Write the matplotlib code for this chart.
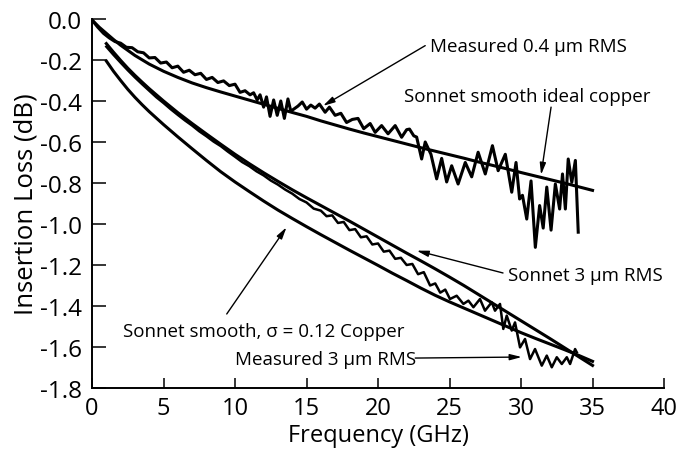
import matplotlib

matplotlib.use("Agg")

import matplotlib.pyplot as plt

plt.rcParams["font.family"] = ["Open Sans", "DejaVu Sans"]

# Sonnet smooth ideal copper
ideal_freq = [
    0, 0.5, 1, 1.5, 2, 3, 4, 5, 6, 7, 8, 9, 10, 11, 12, 13, 14, 15,
    16, 17, 18, 19, 20, 21, 22, 23, 24, 25, 26, 27, 28, 29, 30, 31,
    32, 33, 34, 35
]
ideal_loss = [
    -0.005, -0.04, -0.07, -0.10, -0.128, -0.178, -0.22, -0.255, -0.285,
    -0.312, -0.335, -0.356, -0.376, -0.396, -0.416, -0.436, -0.456,
    -0.475, -0.497, -0.517, -0.537, -0.556, -0.574, -0.592, -0.61,
    -0.628, -0.645, -0.662, -0.679, -0.697, -0.714, -0.731, -0.749,
    -0.766, -0.783, -0.80, -0.818, -0.836
]

# Measured 0.4 um RMS
meas04_freq = [
    0.0, 0.4, 0.8, 1.2, 1.6, 2.0, 2.4, 2.8, 3.2, 3.6, 4.0, 4.4, 4.8,
    5.2, 5.6, 6.0, 6.4, 6.8, 7.2, 7.6, 8.0, 8.4, 8.8, 9.2, 9.6, 10.0,
    10.35, 10.7, 11.05, 11.3, 11.55, 11.75, 12.0, 12.2, 12.45, 12.7,
    12.95, 13.2, 13.45, 13.7, 13.9, 14.1, 14.4, 14.7, 15.0, 15.3, 15.6,
    15.9, 16.3, 16.6, 17.0, 17.4, 17.8, 18.2, 18.6, 19.0, 19.45, 19.8,
    20.25, 20.7, 21.2, 21.65, 22.0, 22.2, 22.5, 22.7, 23.05, 23.3, 23.7,
    24.1, 24.45, 24.8, 25.15, 25.6, 26.1, 26.55, 27.0, 27.5, 28.0, 28.4,
    28.9, 29.35, 29.65, 29.9, 30.1, 30.4, 30.7, 31.0, 31.3, 31.55, 31.8,
    32.1, 32.4, 32.7, 32.9, 33.1, 33.3, 33.55, 33.8, 34.0
]
meas04_loss = [
    -0.005, -0.04, -0.07, -0.092, -0.11, -0.118, -0.138, -0.14, -0.16,
    -0.165, -0.19, -0.188, -0.215, -0.21, -0.238, -0.23, -0.26, -0.25,
    -0.272, -0.265, -0.295, -0.285, -0.31, -0.302, -0.325, -0.318,
    -0.358, -0.35, -0.37, -0.36, -0.395, -0.37, -0.43, -0.38, -0.475,
    -0.395, -0.47, -0.40, -0.485, -0.39, -0.45, -0.44, -0.425, -0.405,
    -0.44, -0.42, -0.435, -0.415, -0.455, -0.43, -0.47, -0.46, -0.505,
    -0.49, -0.485, -0.535, -0.51, -0.553, -0.52, -0.56, -0.52, -0.577,
    -0.54, -0.537, -0.57, -0.576, -0.683, -0.60, -0.66, -0.78, -0.68,
    -0.795, -0.716, -0.805, -0.70, -0.77, -0.65, -0.756, -0.618, -0.74,
    -0.66, -0.845, -0.70, -0.878, -0.86, -0.976, -0.79, -1.114, -0.91,
    -1.02, -0.82, -1.03, -0.805, -0.927, -0.756, -0.927, -0.683, -0.797,
    -0.69, -1.04
]

# Sonnet 3 um RMS
sonnet3_freq = [
    1, 1.5, 2, 2.5, 3, 3.5, 4, 5, 6, 7, 8, 9, 10, 11, 12, 13, 14, 15,
    16, 17, 18, 19, 20, 21, 22, 23, 24, 25, 26, 27, 28, 29, 30, 31,
    32, 33, 34, 35
]
sonnet3_loss = [
    -0.12, -0.162, -0.202, -0.24, -0.275, -0.308, -0.34, -0.40, -0.457,
    -0.51, -0.561, -0.611, -0.66, -0.706, -0.75, -0.792, -0.833, -0.872,
    -0.91, -0.948, -0.986, -1.025, -1.064, -1.103, -1.142, -1.18, -1.219,
    -1.259, -1.3, -1.343, -1.386, -1.429, -1.472, -1.515, -1.558, -1.602,
    -1.646, -1.69
]

# Measured 3 um RMS
meas3_freq = [
    1.0, 1.5, 2.0, 2.5, 3.0, 3.5, 4.0, 4.5, 5.0, 5.5, 6.0, 6.5, 7.0,
    7.5, 8.0, 8.5, 9.0, 9.5, 10.0, 10.5, 11.0, 11.5, 12.0, 12.5, 13.0,
    13.5, 14.0, 14.5, 15.0, 15.5, 16.0, 16.4, 16.8, 17.2, 17.6, 18.0,
    18.4, 18.8, 19.2, 19.6, 20.0, 20.4, 20.8, 21.2, 21.6, 22.0, 22.4,
    22.8, 23.2, 23.64, 24.0, 24.35, 24.7, 25.03, 25.5, 25.97, 26.32,
    26.67, 27.13, 27.48, 27.95, 28.18, 28.53, 28.76, 29.0, 29.35, 29.58,
    29.93, 30.28, 30.63, 30.98, 31.45, 31.8, 32.15, 32.5, 32.85, 33.2,
    33.43, 33.78, 33.9
]
meas3_loss = [
    -0.135, -0.175, -0.213, -0.25, -0.285, -0.318, -0.35, -0.382, -0.41,
    -0.44, -0.468, -0.495, -0.52, -0.548, -0.572, -0.598, -0.62, -0.647,
    -0.672, -0.698, -0.718, -0.743, -0.763, -0.788, -0.808, -0.832, -0.852,
    -0.878, -0.895, -0.925, -0.935, -0.962, -0.958, -0.995, -0.99, -1.03,
    -1.025, -1.065, -1.06, -1.10, -1.095, -1.135, -1.13, -1.17, -1.165,
    -1.20, -1.195, -1.245, -1.235, -1.30, -1.29, -1.335, -1.32, -1.366,
    -1.35, -1.39, -1.374, -1.406, -1.366, -1.423, -1.382, -1.423, -1.39,
    -1.512, -1.447, -1.52, -1.48, -1.602, -1.561, -1.659, -1.61, -1.691,
    -1.642, -1.699, -1.65, -1.683, -1.65, -1.683, -1.61, -1.626
]

# Sonnet smooth, sigma = 0.12 copper
sigma_freq = [
    1, 1.5, 2, 2.5, 3, 3.5, 4, 5, 6, 7, 8, 9, 10, 11, 12, 13, 14, 15,
    16, 17, 18, 19, 20, 21, 22, 23, 24, 25, 26, 27, 28, 29, 30, 31,
    32, 33, 34, 35
]
sigma_loss = [
    -0.205, -0.255, -0.30, -0.343, -0.382, -0.418, -0.452, -0.515,
    -0.575, -0.633, -0.69, -0.745, -0.795, -0.842, -0.888, -0.932,
    -0.973, -1.013, -1.052, -1.09, -1.128, -1.165, -1.202, -1.24,
    -1.276, -1.313, -1.348, -1.38, -1.41, -1.44, -1.47, -1.50, -1.53,
    -1.558, -1.585, -1.612, -1.64, -1.67
]

x_ticks = [0, 5, 10, 15, 20, 25, 30, 35, 40]
y_ticks = [0.0, -0.2, -0.4, -0.6, -0.8, -1.0, -1.2, -1.4, -1.6, -1.8]

# label text, text anchor, arrow tail, arrow tip
annotations = [
    ("Measured 0.4 µm RMS", (23.64, -0.132), (23.3, -0.13), (16.15, -0.424)),
    ("Sonnet smooth ideal copper", (21.8, -0.375), (32.1, -0.43), (31.4, -0.76)),
    ("Sonnet 3 µm RMS", (29.1, -1.249), (28.74, -1.239), (22.7, -1.13)),
    ("Sonnet smooth, σ = 0.12 Copper", (2.17, -1.522), (9.42, -1.439), (13.6, -1.016)),
    ("Measured 3 µm RMS", (10.0, -1.659), (22.6, -1.654), (30.05, -1.649)),
]


fig = plt.figure(
    figsize=(6.93, 4.52),
    dpi=100
)

ax = fig.add_axes([0.1328, 0.1394, 0.8254, 0.8164])

ax.plot(ideal_freq, ideal_loss, color="black", lw=2.2)
ax.plot(meas04_freq, meas04_loss, color="black", lw=2.2)
ax.plot(sonnet3_freq, sonnet3_loss, color="black", lw=2.2)
ax.plot(meas3_freq, meas3_loss, color="black", lw=1.8)
ax.plot(sigma_freq, sigma_loss, color="black", lw=2.2)

for label, text_xy, tail_xy, tip_xy in annotations:

    ax.text(
        text_xy[0],
        text_xy[1],
        label,
        fontsize=13.5,
        ha="left",
        va="center"
    )

    ax.annotate(
        "",
        xy=tip_xy,
        xytext=tail_xy,
        arrowprops=dict(
            arrowstyle="-|>,head_length=0.7,head_width=0.18",
            color="black",
            lw=1.0,
            shrinkA=0,
            shrinkB=0
        )
    )

ax.set_xlim(0, 40)
ax.set_ylim(-1.8, 0)

ax.set_xticks(x_ticks)
ax.set_yticks(y_ticks)
ax.set_yticklabels([f"{v:.1f}" for v in y_ticks])

ax.spines["top"].set_visible(False)
ax.spines["right"].set_visible(False)
ax.spines["left"].set_linewidth(1.4)
ax.spines["bottom"].set_linewidth(1.4)

ax.tick_params(axis="x", direction="in", length=7, width=1.1, labelsize=17, pad=6)
ax.tick_params(axis="y", direction="in", length=10, width=1.1, labelsize=17.5, pad=7)

ax.set_xlabel("Frequency (GHz)", fontsize=17, labelpad=2)
ax.set_ylabel("Insertion Loss (dB)", fontsize=18.5, labelpad=1)

fig.savefig("out.png", dpi=100)

plt.close(fig)
